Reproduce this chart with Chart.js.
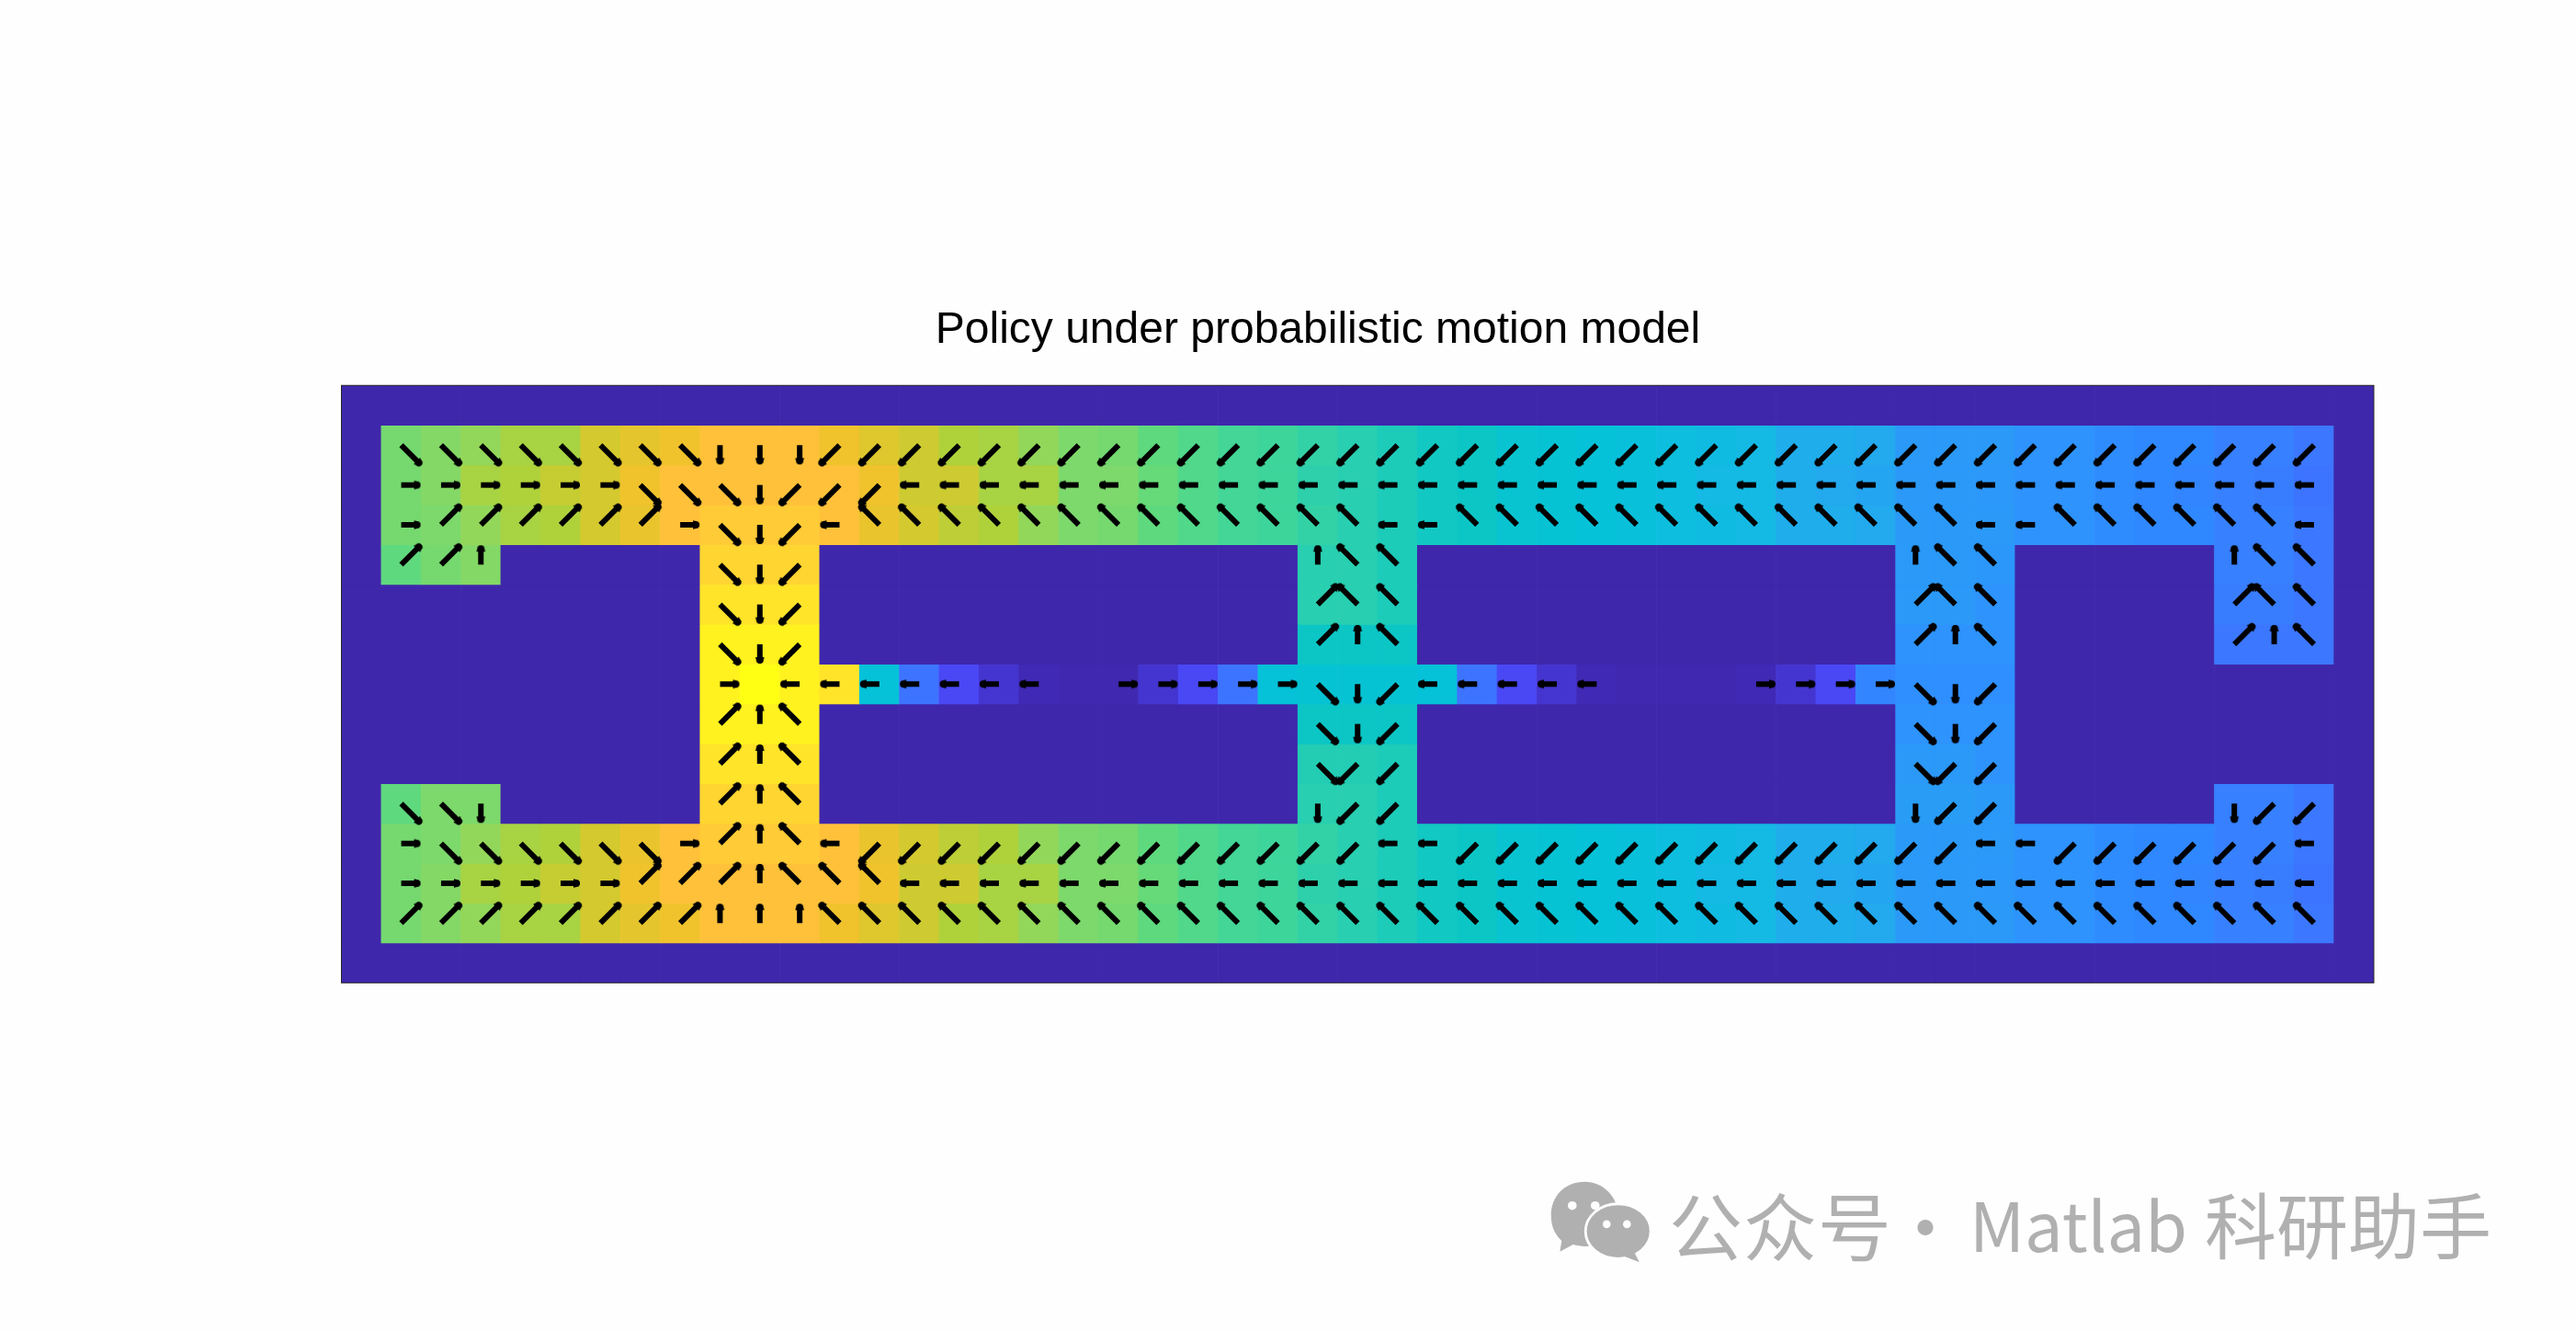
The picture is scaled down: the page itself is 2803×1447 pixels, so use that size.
<!DOCTYPE html>
<html>
<head>
<meta charset="utf-8">
<script src="https://cdn.jsdelivr.net/npm/chart.js@4"></script>
<style>
  html, body { margin: 0; padding: 0; background: #fefefe; }
  #wrap { position: relative; width: 2803px; height: 1447px; overflow: hidden; }
  #myChart { position: absolute; left: 0; top: 0; }
  #mark-icon { position: absolute; left: 1682px; top: 1281px; }
  .mark {
    position: absolute; top: 1280px; white-space: nowrap;
    font-family: "Noto Sans CJK SC", sans-serif; font-weight: 400; color: #b0b0b0; line-height: 100px;
  }
</style>
</head>
<body>
<div id="wrap">
  <canvas id="myChart" width="2803" height="1447"></canvas>
  <svg id="mark-icon" width="120" height="96" viewBox="0 0 125 100">
    <path d="M44 5C22 5 6 21 6 43c0 14 5 22 12 29l-2 12 15-8c4 1 9 2 13 2 22 0 38-15 38-35S66 5 44 5z" fill="#b0b0b0"/>
    <ellipse cx="82" cy="61" rx="37" ry="31" fill="#b0b0b0" stroke="#fefefe" stroke-width="3"/>
    <path d="M100 84l6 12-18-7z" fill="#b0b0b0"/>
    <circle cx="30" cy="32" r="5" fill="#fefefe"/><circle cx="56" cy="32" r="5" fill="#fefefe"/>
    <circle cx="69" cy="53" r="4.5" fill="#fefefe"/><circle cx="92" cy="53" r="4.5" fill="#fefefe"/>
  </svg>
  <span class="mark" style="left:1816px;font-size:80px;letter-spacing:1px">公众号</span>
  <span class="mark" style="left:2055px;font-size:80px">·</span>
  <span class="mark" style="left:2143px;font-size:74px">Matlab</span>
  <span class="mark" style="left:2399px;font-size:78px">科研助手</span>
</div>
<script>
const titleText = "Policy under probabilistic motion model";

// colour scale (value -> colour)
const scaleValues = [0, 2, 6, 10, 20, 24, 27, 29, 31, 33, 37, 41, 45, 50, 55, 60, 65, 70, 75, 80, 85, 88, 92, 95, 98, 100];
const scaleColors = ["#3f27ab", "#4029b5", "#4535d0", "#4a48f5", "#3d74ff", "#3780ff", "#2f88ff", "#2f8fff", "#2c97fa", "#2b99f8",
  "#22a9ee", "#14b9e4", "#05c2d8", "#0cc6c6", "#28cfb0", "#43d696", "#66da78", "#8cd862", "#afd23b", "#d4c92e",
  "#f0c32d", "#ffc13a", "#ffd531", "#ffe42a", "#fff21f", "#ffff14"];

const wallRow = [
  0,0,0,0,0,0,0,0,0,0, 0,0,0,0,0,0,0,0,0,0, 0,0,0,0,0,0,0,0,0,0, 0,0,0,0,0,0,0,0,0,0, 0,0,0,0,0,0,0,0,0,0, 0];
const row1 = [
  0,67,69,71,74,74,80,83,85,88, 88,88,85,82,79,75,74,71,68,67, 64,62,60,59,57,55,53,51,50,47,
  46,45,44,43,42,41,38,38,37,33, 33,33,30,30,28,27,27,24,24,21, 0];
const row2 = [
  0,67,69,74,75,78,80,85,88,88, 88,88,88,85,79,79,74,74,68,68, 65,62,60,59,56,55,53,51,50,47,
  46,45,44,43,41,41,38,37,36,33, 33,32,30,30,28,27,26,24,23,20, 0];
const row3 = [
  0,67,68,71,74,75,80,84,88,90, 90,90,88,84,80,77,75,71,68,67, 64,62,60,59,57,55,53,51,50,47,
  46,45,44,43,42,41,38,38,37,33, 33,33,30,30,28,27,27,24,24,21, 0];
const row4 = [
  0,64,67,69,0,0,0,0,0,92, 92,92,0,0,0,0,0,0,0,0, 0,0,0,0,55,55,53,0,0,0,
  0,0,0,0,0,0,0,0,0,33, 33,31,0,0,0,0,0,24,24,21, 0];
const row5 = [
  0,0,0,0,0,0,0,0,0,95, 95,95,0,0,0,0,0,0,0,0, 0,0,0,0,55,55,53,0,0,0,
  0,0,0,0,0,0,0,0,0,33, 33,30,0,0,0,0,0,23,23,21, 0];
const row6 = [
  0,0,0,0,0,0,0,0,0,98, 98,98,0,0,0,0,0,0,0,0, 0,0,0,0,50,50,50,0,0,0,
  0,0,0,0,0,0,0,0,0,30, 30,30,0,0,0,0,0,21,21,21, 0];
const row7 = [
  0,0,0,0,0,0,0,0,0,98, 100,98,95,45,20,10,6,2,1,1, 6,10,20,45,46,46,46,45,20,10,
  6,2,1,1,1,2,6,10,26,29, 29,29,0,0,0,0,0,0,0,0, 0];
const row8 = [
  0,0,0,0,0,0,0,0,0,98, 98,98,0,0,0,0,0,0,0,0, 0,0,0,0,50,50,50,0,0,0,
  0,0,0,0,0,0,0,0,0,30, 30,30,0,0,0,0,0,0,0,0, 0];
const row9 = [
  0,0,0,0,0,0,0,0,0,95, 95,95,0,0,0,0,0,0,0,0, 0,0,0,0,54,54,53,0,0,0,
  0,0,0,0,0,0,0,0,0,33, 33,30,0,0,0,0,0,0,0,0, 0];
const row10 = [
  0,64,68,68,0,0,0,0,0,92, 92,92,0,0,0,0,0,0,0,0, 0,0,0,0,55,55,53,0,0,0,
  0,0,0,0,0,0,0,0,0,34, 34,33,0,0,0,0,0,24,24,21, 0];
const heatRows = [wallRow, row1, row2, row3, row4, row5, row6, row7, row8, row9, row10, row3, row2, row1, wallRow];

// policy per cell, numpad style: 8 = up, 6 = right, 3 = down-right ... 0 = no arrow
const policyRows = [
  "0000000000 0000000000 0000000000 0000000000 0000000000 0",
  "0333333332 2211111111 1111111111 1111111111 1111111111 0",
  "0666666333 2111444444 4444444444 4444444444 4444444444 0",
  "0699999963 2147777777 7777774477 7777777777 7447777774 0",
  "0998000003 2100000000 0000877000 0000000008 7700000877 0",
  "0000000003 2100000000 0000977000 0000000009 7700000977 0",
  "0000000003 2100000000 0000987000 0000000009 8700000987 0",
  "0000000006 0444444406 6666321444 4400066663 2100000000 0",
  "0000000009 8700000000 0000321000 0000000003 2100000000 0",
  "0000000009 8700000000 0000311000 0000000003 1100000000 0",
  "0332000009 8700000000 0000211000 0000000002 1100000211 0",
  "0633333369 8741111111 1111114411 1111111111 1441111114 0",
  "0666666999 8777444444 4444444444 4444444444 4444444444 0",
  "0999999998 8877777777 7777777777 7777777777 7777777777 0",
  "0000000000 0000000000 0000000000 0000000000 0000000000 0",
];
const policyAngles = { 6: 0, 3: 45, 2: 90, 1: 135, 4: 180, 7: 225, 8: 270, 9: 315 };

const cols = wallRow.map((v, i) => i);

function hexToRgb(h) {
  return [1, 3, 5].map((i) => parseInt(h.slice(i, i + 2), 16));
}

function colorFor(v) {
  let i = 0;
  while (i < scaleValues.length - 2 && v > scaleValues[i + 1]) i++;
  let t = (v - scaleValues[i]) / (scaleValues[i + 1] - scaleValues[i]);
  let a = hexToRgb(scaleColors[i]);
  let b = hexToRgb(scaleColors[i + 1]);
  let c = a.map((x, k) => Math.round(x + (b[k] - x) * t));
  return "rgb(" + c.join(",") + ")";
}

// arrow sprite: the tail sits on the sprite centre, so rotation turns it around the cell centre
function makeArrow(len) {
  let size = Math.ceil(len * 2 + 8);
  let cv = document.createElement("canvas");
  cv.width = size;
  cv.height = size;
  let c = cv.getContext("2d");
  let m = size / 2;
  c.fillStyle = "#000";
  c.beginPath();
  c.moveTo(m, m - 3);
  c.lineTo(m + len - 7, m - 3);
  c.lineTo(m + len - 7, m - 4.8);
  c.lineTo(m + len - 1.5, m - 3.6);
  c.lineTo(m + len, m - 1.5);
  c.lineTo(m + len, m + 1.5);
  c.lineTo(m + len - 1.5, m + 3.6);
  c.lineTo(m + len - 7, m + 4.8);
  c.lineTo(m + len - 7, m + 3);
  c.lineTo(m, m + 3);
  c.closePath();
  c.fill();
  return cv;
}
const straightArrow = makeArrow(21);
const diagonalArrow = makeArrow(31);

let arrowPoints = [];
let arrowStyles = [];
let arrowRotations = [];
policyRows.forEach((line, r) => {
  line.replace(/ /g, "").split("").forEach((ch, c) => {
    if (ch == "0") return;
    arrowPoints.push({ x: c, y: r + 0.5 });
    arrowStyles.push(policyAngles[ch] % 90 == 0 ? straightArrow : diagonalArrow);
    arrowRotations.push(policyAngles[ch]);
  });
});

// one bar dataset per grid row, each bar is one cell
let datasets = heatRows.map((row, r) => ({
  type: "bar",
  data: row.map(() => [r, r + 1]),
  backgroundColor: row.map(colorFor),
  grouped: false,
  barPercentage: 1,
  categoryPercentage: 1,
  borderWidth: 0,
  order: 1,
}));
datasets.push({
  type: "scatter",
  data: arrowPoints,
  pointStyle: arrowStyles,
  rotation: arrowRotations,
  pointRadius: 3,
  showLine: false,
  order: 0,
});

const axesBox = {
  id: "axesBox",
  afterDraw(chart) {
    let a = chart.chartArea;
    let c = chart.ctx;
    c.save();
    c.strokeStyle = "#262626";
    c.lineWidth = 1;
    c.strokeRect(a.left, a.top, a.right - a.left, a.bottom - a.top);
    c.restore();
  },
};

var ctx = document.getElementById("myChart");
new Chart(ctx, {
  type: "bar",
  data: { labels: cols, datasets: datasets },
  plugins: [axesBox],
  options: {
    responsive: false,
    animation: false,
    events: [],
    devicePixelRatio: 1,
    layout: { padding: { left: 65, right: 0, top: 0, bottom: 377.7 } },
    plugins: {
      legend: { display: false },
      tooltip: { enabled: false },
      title: {
        display: true,
        text: titleText,
        color: "#000",
        font: { family: "'Liberation Sans', Arial, sans-serif", size: 48, weight: "normal" },
        padding: { top: 330.7, bottom: 31 },
      },
    },
    scales: {
      x: { type: "category", offset: true, display: false },
      y: {
        type: "linear", min: 0, max: 15, reverse: true, position: "left",
        ticks: { display: false }, grid: { display: false }, border: { display: false },
        afterFit(scale) { scale.width = 306.5; },
      },
      yRight: {
        type: "linear", min: 0, max: 15, position: "right",
        ticks: { display: false }, grid: { display: false }, border: { display: false },
        afterFit(scale) { scale.width = 220; },
      },
    },
  },
});
</script>
</body>
</html>
